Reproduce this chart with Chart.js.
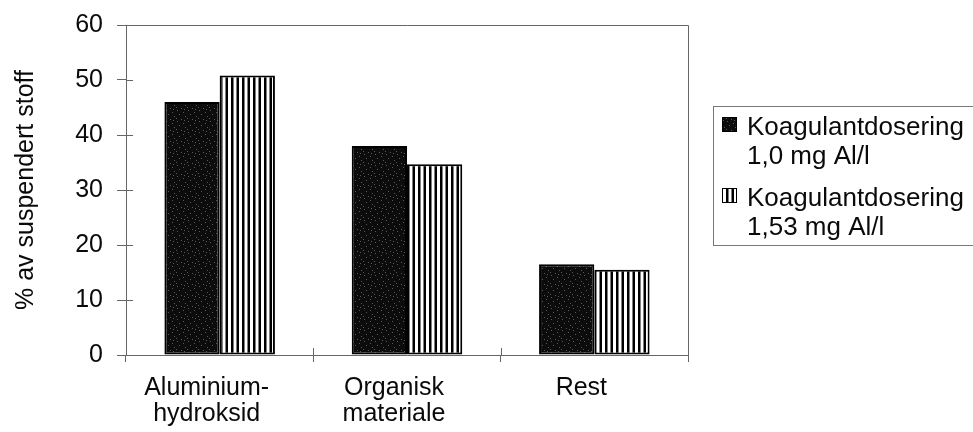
<!DOCTYPE html>
<html lang="no">
<head>
<meta charset="UTF-8">
<title>Suspendert stoff</title>
<script src="https://cdn.jsdelivr.net/npm/chart.js@4.4.7/dist/chart.umd.min.js"></script>
<style>
*{margin:0;padding:0}
body{background:#fff;width:973px;height:432px;overflow:hidden}
canvas{display:block}
</style>
</head>
<body>
<canvas id="c" width="973" height="432"></canvas>
<script>
// data
var CATEGORIES = [["Aluminium-", "hydroksid"], ["Organisk", "materiale"], ["Rest"]];
var SERIES_LINES = [["Koagulantdosering", "1,0 mg Al/l"], ["Koagulantdosering", "1,53 mg Al/l"]];
var DOSE_10 = [46, 38, 16.5];
var DOSE_153 = [50.8, 34.7, 15.5];
var Y_TITLE = "% av suspendert stoff";

var FONT = "'Liberation Sans', Arial, Helvetica, sans-serif";

// dark speckled fill (scanned halftone look)
function speckle() {
  var p = document.createElement("canvas");
  p.width = 11; p.height = 11;
  var g = p.getContext("2d");
  g.fillStyle = "#0c0c0c";
  g.fillRect(0, 0, 11, 11);
  g.fillStyle = "#5a5a5a";
  var dots = [[1,0],[7,2],[3,4],[9,6],[0,8],[5,9],[8,10]];
  dots.forEach(function (d) { g.fillRect(d[0], d[1], 1, 1); });
  return g.createPattern(p, "repeat");
}

// vertical black/white stripes
function stripes() {
  var p = document.createElement("canvas");
  p.width = 11; p.height = 4;
  var g = p.getContext("2d");
  g.fillStyle = "#fff";
  g.fillRect(0, 0, 11, 4);
  g.fillStyle = "#000";
  g.fillRect(0, 0, 2.5, 4);
  g.fillRect(5.5, 0, 2.5, 4);
  return g.createPattern(p, "repeat");
}

var FILLS = [speckle(), stripes()];

// inner tick marks + top/right frame
var frame = {
  id: "frame",
  afterDraw: function (chart) {
    var ctx = chart.ctx, a = chart.chartArea, x = chart.scales.x, y = chart.scales.y;
    ctx.save();
    ctx.strokeStyle = "#666";
    ctx.lineWidth = 1;
    ctx.beginPath();
    ctx.moveTo(a.left, a.top + 0.5);
    ctx.lineTo(a.right + 0.5, a.top + 0.5);
    ctx.lineTo(a.right + 0.5, a.bottom + 6);
    y.ticks.forEach(function (t) {
      var py = Math.round(y.getPixelForValue(t.value)) + 0.5;
      ctx.moveTo(a.left, py);
      ctx.lineTo(a.left + 7, py);
    });
    for (var i = 0; i <= CATEGORIES.length; i++) {
      var px = Math.round(x.getPixelForValue(i - 0.5)) + 0.5;
      ctx.moveTo(px, a.bottom);
      ctx.lineTo(px, a.bottom - 7);
    }
    ctx.stroke();
    ctx.restore();
  }
};

// boxed legend with two-line entries
var boxLegend = {
  id: "boxLegend",
  afterDraw: function (chart) {
    var ctx = chart.ctx;
    ctx.save();
    ctx.strokeStyle = "#777";
    ctx.lineWidth = 1;
    ctx.strokeRect(713.5, 106.5, 280, 139);
    ctx.font = "26px " + FONT;
    ctx.textBaseline = "alphabetic";
    SERIES_LINES.forEach(function (lines, i) {
      var top = 117 + i * 71;
      ctx.fillStyle = FILLS[i];
      ctx.fillRect(722, top, 15, 15);
      ctx.strokeStyle = "#000";
      ctx.strokeRect(722.5, top + 0.5, 14, 14);
      ctx.fillStyle = "#0a0a0a";
      lines.forEach(function (s, j) {
        ctx.fillText(s, 747, top + 18 + j * 29);
      });
    });
    ctx.restore();
  }
};

new Chart(document.getElementById("c"), {
  type: "bar",
  data: {
    labels: CATEGORIES,
    datasets: [
      { label: SERIES_LINES[0].join(" "), data: DOSE_10, backgroundColor: FILLS[0] },
      { label: SERIES_LINES[1].join(" "), data: DOSE_153, backgroundColor: FILLS[1] }
    ].map(function (d) {
      d.borderColor = "#000";
      d.borderWidth = 2;
      d.borderSkipped = false;
      d.barPercentage = 1;
      d.categoryPercentage = 0.59;
      return d;
    })
  },
  options: {
    responsive: false,
    animation: false,
    layout: { padding: { left: 0, top: 25, right: 285, bottom: 0 } },
    plugins: { legend: { display: false }, tooltip: { enabled: false } },
    scales: {
      x: {
        grid: { drawOnChartArea: false, tickLength: 7, color: "#666" },
        border: { color: "#666" },
        ticks: { font: { family: FONT, size: 25, lineHeight: 1.05 }, color: "#0a0a0a", padding: 13, labelOffset: -13, maxRotation: 0 },
        afterFit: function (s) { s.height = 77; }
      },
      y: {
        min: 0, max: 60,
        grid: { drawOnChartArea: false, tickLength: 9, color: "#666" },
        border: { color: "#666" },
        ticks: { stepSize: 10, font: { family: FONT, size: 25 }, color: "#0a0a0a", padding: 14 },
        title: { display: true, text: Y_TITLE, color: "#0a0a0a", font: { family: FONT, size: 25 }, padding: { top: 11, bottom: 0 } },
        afterFit: function (s) { s.width = 126; s.paddingTop = 0; }
      }
    }
  },
  plugins: [frame, boxLegend]
});
</script>
</body>
</html>
